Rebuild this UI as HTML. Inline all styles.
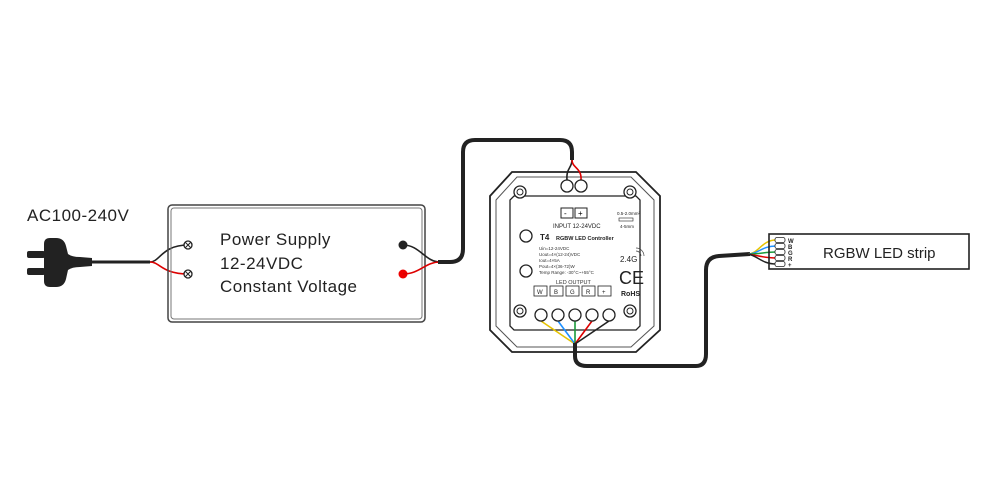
<!DOCTYPE html>
<html><head><style>
body{margin:0;background:#fff;}
svg{display:block}
text{font-family:"Liberation Sans",sans-serif;}
</style></head><body>
<svg width="1000" height="500" viewBox="0 0 1000 500" xmlns="http://www.w3.org/2000/svg">
<rect width="1000" height="500" fill="#fff"/>
<text x="27" y="221" font-size="17" fill="#222" letter-spacing="0.5">AC100-240V</text>
<!-- plug -->
<rect x="27" y="251" width="18" height="7" rx="2" fill="#222"/>
<rect x="27" y="268" width="18" height="7" rx="2" fill="#222"/>
<path d="M44 244 Q44 238 50 238 L56 238 Q64 238 66 246 L68 254 Q72 257 80 257 L92 258 L92 266 L80 267 Q72 267 68 270 L66 279 Q64 287 56 287 L50 287 Q44 287 44 281 Z" fill="#222"/>
<line x1="90" y1="262" x2="150" y2="262" stroke="#222" stroke-width="3"/>
<path d="M150 262 C160 262 162 245 188 245" stroke="#222" stroke-width="1.6" fill="none"/>
<path d="M150 262 C160 262 162 274 188 274" stroke="#d00" stroke-width="1.6" fill="none"/>
<!-- PSU -->
<rect x="168" y="205" width="257" height="117" rx="4" fill="none" stroke="#444" stroke-width="1.5"/>
<rect x="171" y="208" width="251" height="111" rx="3" fill="none" stroke="#777" stroke-width="1"/>
<circle cx="188" cy="245" r="4" fill="#fff" stroke="#222" stroke-width="1.3"/>
<path d="M185.5 242.5l5 5M190.5 242.5l-5 5" stroke="#222" stroke-width="1"/>
<circle cx="188" cy="274" r="4" fill="#fff" stroke="#222" stroke-width="1.3"/>
<path d="M185.5 271.5l5 5M190.5 271.5l-5 5" stroke="#222" stroke-width="1"/>
<text x="220" y="245" font-size="17" fill="#222" letter-spacing="0.5">Power Supply</text>
<text x="220" y="269" font-size="17" fill="#222" letter-spacing="0.5">12-24VDC</text>
<text x="220" y="292" font-size="17" fill="#222" letter-spacing="0.5">Constant Voltage</text>
<circle cx="403" cy="245" r="4.5" fill="#222"/>
<circle cx="403" cy="274" r="4.5" fill="#e00"/>
<path d="M403 245 C420 245 425 262 440 262" stroke="#222" stroke-width="1.6" fill="none"/>
<path d="M403 274 C420 274 425 262 440 262" stroke="#d00" stroke-width="1.6" fill="none"/>
<!-- cable to controller -->
<path d="M438 262 L450 262 Q463 262 463 249 L463 152 Q463 140 475 140 L560 140 Q572 140 572 152 L572 160" stroke="#222" stroke-width="4" fill="none"/>
<!-- controller -->
<path d="M512 172 L636 172 L660 196 L660 330 L636 352 L512 352 L490 330 L490 196 Z" fill="#fff" stroke="#222" stroke-width="1.8"/>
<path d="M517 177 L631 177 L654 200 L654 326 L631 347 L517 347 L496 326 L496 200 Z" fill="none" stroke="#555" stroke-width="1"/>
<path d="M514 196 L636 196 L640 200 L640 326 L636 330 L514 330 L510 326 L510 200 Z" fill="none" stroke="#222" stroke-width="1.3"/>
<path d="M572 160 C572 168 566 168 567 180" stroke="#222" stroke-width="1.6" fill="none"/>
<path d="M572 160 C572 168 582 168 581 180" stroke="#d00" stroke-width="1.6" fill="none"/>
<circle cx="567" cy="186" r="6" fill="#fff" stroke="#222" stroke-width="1.3"/>
<circle cx="581" cy="186" r="6" fill="#fff" stroke="#222" stroke-width="1.3"/>
<circle cx="520" cy="192" r="6" fill="#fff" stroke="#222" stroke-width="1.3"/><circle cx="520" cy="192" r="3" fill="none" stroke="#222"/>
<circle cx="630" cy="192" r="6" fill="#fff" stroke="#222" stroke-width="1.3"/><circle cx="630" cy="192" r="3" fill="none" stroke="#222"/>
<circle cx="520" cy="311" r="6" fill="#fff" stroke="#222" stroke-width="1.3"/><circle cx="520" cy="311" r="3" fill="none" stroke="#222"/>
<circle cx="630" cy="311" r="6" fill="#fff" stroke="#222" stroke-width="1.3"/><circle cx="630" cy="311" r="3" fill="none" stroke="#222"/>
<rect x="561" y="208" width="12" height="10" fill="#fff" stroke="#222"/><text x="564" y="216" font-size="8">-</text>
<rect x="575" y="208" width="12" height="10" fill="#fff" stroke="#222"/><text x="578" y="216" font-size="8">+</text>
<text x="553" y="228" font-size="6" fill="#222">INPUT 12-24VDC</text>
<text x="617" y="215" font-size="4.5" fill="#222">0.5-2.0mm²</text>
<rect x="619" y="218" width="14" height="3" fill="none" stroke="#222" stroke-width="0.6"/>
<text x="620" y="228" font-size="4.5" fill="#222">4-5mm</text>
<circle cx="526" cy="236" r="6" fill="#fff" stroke="#222" stroke-width="1.3"/>
<circle cx="526" cy="271" r="6" fill="#fff" stroke="#222" stroke-width="1.3"/>
<text x="540" y="240" font-size="8" font-weight="bold" fill="#222">T4</text>
<text x="556" y="240" font-size="5.5" font-weight="bold" fill="#222">RGBW LED Controller</text>
<text x="539" y="250" font-size="4.5" fill="#333">Uin=12-24VDC</text>
<text x="539" y="256" font-size="4.5" fill="#333">Uout=4×(12-24)VDC</text>
<text x="539" y="262" font-size="4.5" fill="#333">Iout=4×5A</text>
<text x="539" y="268" font-size="4.5" fill="#333">Pout=4×(36-72)W</text>
<text x="539" y="274" font-size="4.5" fill="#333">Temp Range: -30°C~+55°C</text>
<text x="620" y="262" font-size="8" fill="#222">2.4G</text>
<path d="M636 251 a5 5 0 0 1 5 5 M636 248 a8 8 0 0 1 8 8" stroke="#444" stroke-width="0.7" fill="none"/>
<text x="619" y="284" font-size="18" fill="#222">CE</text>
<text x="621" y="296" font-size="7" font-weight="bold" fill="#222">RoHS</text>
<text x="556" y="284" font-size="5.5" fill="#333">LED OUTPUT</text>
<g stroke="#222" stroke-width="0.8" fill="#fff">
<rect x="534" y="286" width="13" height="10"/><rect x="550" y="286" width="13" height="10"/><rect x="566" y="286" width="13" height="10"/><rect x="582" y="286" width="13" height="10"/><rect x="598" y="286" width="13" height="10"/>
</g>
<g font-size="6" fill="#222"><text x="537" y="294">W</text><text x="554" y="294">B</text><text x="570" y="294">G</text><text x="586" y="294">R</text><text x="602" y="294">+</text></g>
<g fill="none" stroke-width="1.6">
<path d="M541 321 L575 344" stroke="#e6c300"/>
<path d="M558 321 L575 344" stroke="#1e90ff"/>
<path d="M575 321 L575 344" stroke="#1a9a3a"/>
<path d="M592 321 L575 344" stroke="#d00"/>
<path d="M609 321 L575 344" stroke="#222"/>
</g>
<g fill="#fff" stroke="#222" stroke-width="1.3">
<circle cx="541" cy="315" r="6"/><circle cx="558" cy="315" r="6"/><circle cx="575" cy="315" r="6"/><circle cx="592" cy="315" r="6"/><circle cx="609" cy="315" r="6"/>
</g>
<!-- cable to strip -->
<path d="M575 343 L575 356 Q575 366 587 366 L696 366 Q706 366 706 354 L706 270 Q706 257 719 256 L750 254" stroke="#222" stroke-width="4" fill="none"/>
<g fill="none" stroke-width="1.5">
<path d="M748 254 C758 254 762 240 776 240" stroke="#e6c300"/>
<path d="M748 254 C758 254 762 246 776 246" stroke="#1e90ff"/>
<path d="M748 254 C760 254 765 252 776 252" stroke="#1a9a3a"/>
<path d="M748 254 C760 256 765 258 776 258" stroke="#d00"/>
<path d="M748 254 C758 256 762 264 776 264" stroke="#222"/>
</g>
<rect x="769" y="234" width="200" height="35" fill="none" stroke="#222" stroke-width="1.6"/>
<g fill="#fff" stroke="#222" stroke-width="0.8">
<rect x="775" y="237.5" width="10" height="5" rx="2"/><rect x="775" y="243.5" width="10" height="5" rx="2"/><rect x="775" y="249.5" width="10" height="5" rx="2"/><rect x="775" y="255.5" width="10" height="5" rx="2"/><rect x="775" y="261.5" width="10" height="5" rx="2"/>
</g>
<g font-size="6" fill="#222" font-weight="bold"><text x="788" y="243">W</text><text x="788" y="249">B</text><text x="788" y="255">G</text><text x="788" y="261">R</text><text x="788" y="267">+</text></g>
<text x="823" y="258" font-size="15" fill="#222">RGBW LED strip</text>
</svg>
</body></html>
